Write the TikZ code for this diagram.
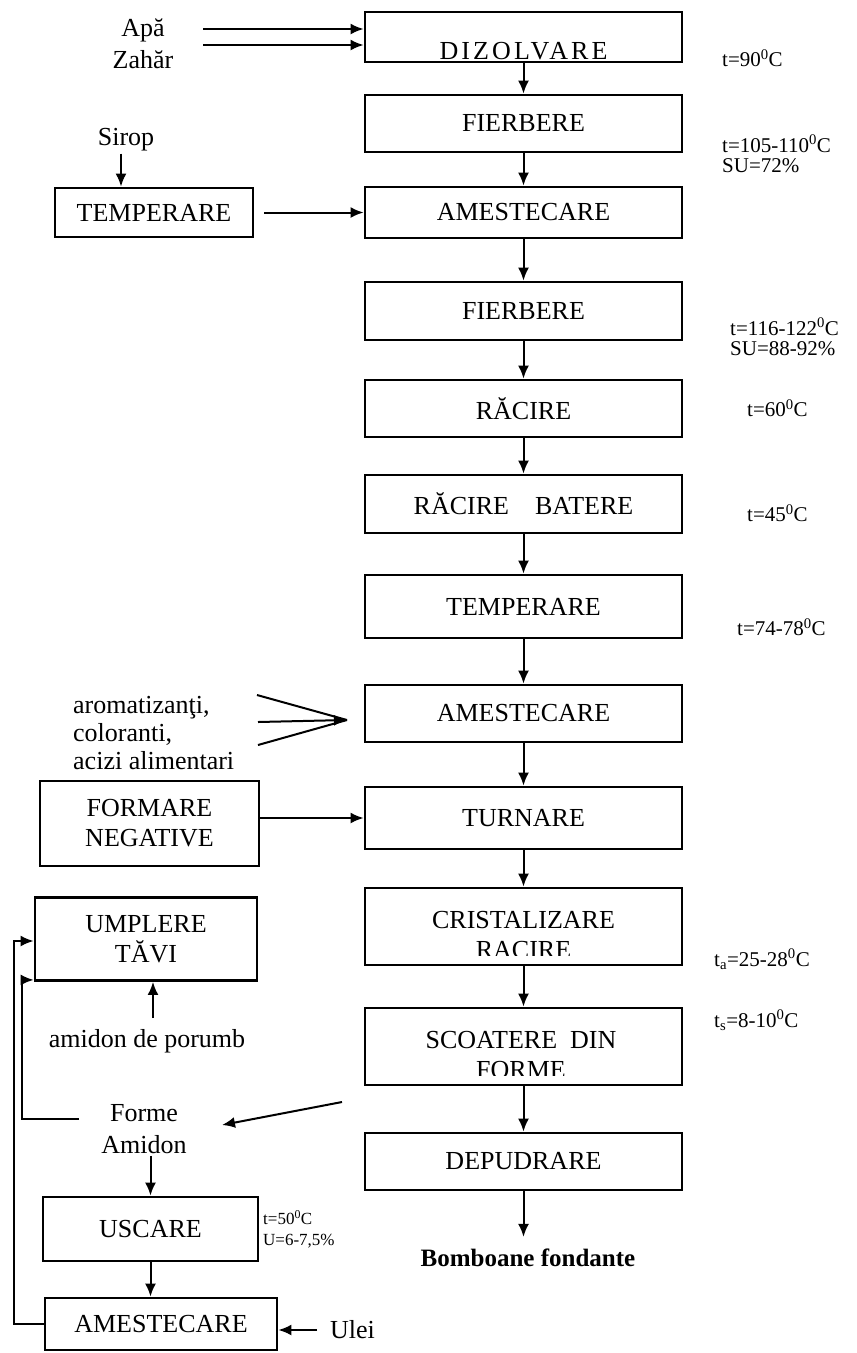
\documentclass[tikz,border=0pt]{standalone}
\usepackage{fontspec}
\setmainfont{Liberation Serif}
\newfontface\trackedface[LetterSpace=12]{Liberation Serif}
\usetikzlibrary{arrows.meta}
\newcommand\stepsz{\fontsize{26}{30}\selectfont}
\newcommand\notesz{\fontsize{21}{20}\selectfont}
\newcommand\tinysz{\fontsize{17}{21}\selectfont}
\begin{document}
\begin{tikzpicture}[x=1pt,y=-1pt,
  stepbox/.style={draw, line width=2.8pt, inner sep=2pt, align=center, font=\stepsz},
  txt/.style={inner sep=2pt, align=center, font=\stepsz},
  note/.style={anchor=west, inner sep=0pt, align=left, font=\notesz},
  arr/.style={line width=2pt, -{Latex[length=13pt,width=11pt]}},
  link/.style={line width=2pt}]
\useasboundingbox (0,0) rectangle (857,1353);

% main process column
\node[stepbox, minimum width=317pt, minimum height=50pt] (diz) at (523.5,37)
  {\raisebox{-22pt}[0pt][0pt]{\trackedface DIZOLVARE}};
\node[stepbox, minimum width=317pt, minimum height=57pt] (fie1) at (523.5,123.5) {FIERBERE};
\node[stepbox, minimum width=317pt, minimum height=51pt] (ame1) at (523.5,212.5) {AMESTECARE};
\node[stepbox, minimum width=317pt, minimum height=58pt] (fie2) at (523.5,311) {FIERBERE};
\node[stepbox, minimum width=317pt, minimum height=57pt] (rac) at (523.5,408.5) {RĂCIRE};
\node[stepbox, minimum width=317pt, minimum height=58pt] (racb) at (523.5,504) {RĂCIRE\quad BATERE};
\node[stepbox, minimum width=317pt, minimum height=63pt] (tem2) at (523.5,606.5) {TEMPERARE};
\node[stepbox, minimum width=317pt, minimum height=57pt] (ame2) at (523.5,713.5) {AMESTECARE};
\node[stepbox, minimum width=317pt, minimum height=62pt] (turn) at (523.5,818) {TURNARE};
\node[stepbox, minimum width=317pt, minimum height=77pt] (cris) at (523.5,926.5) {};
\node[stepbox, minimum width=317pt, minimum height=77pt] (scoa) at (523.5,1046.5) {};
\node[stepbox, minimum width=317pt, minimum height=57pt] (dep) at (523.5,1161.5) {DEPUDRARE};
\node[inner sep=2pt, font=\fontsize{25}{30}\selectfont\bfseries] (bomb) at (528,1258) {Bomboane fondante};

% two-line captions cut by the lower edge of their boxes
\begin{scope}
  \clip (366,890) rectangle (681,955);
  \node[txt] (crist) at (523.5,935) {CRISTALIZARE\\RACIRE};
\end{scope}
\begin{scope}
  \clip (366,1010) rectangle (681,1075);
  \node[txt] (scoat) at (521,1055) {SCOATERE\enspace DIN\\FORME};
\end{scope}

% side steps
\node[stepbox, minimum width=198pt, minimum height=49pt] (tem1) at (154,212.5) {TEMPERARE};
\node[stepbox, minimum width=219pt, minimum height=85pt] (form) at (149.5,823.5) {FORMARE\\NEGATIVE};
\node[stepbox, minimum width=222pt, minimum height=83pt] (umpl) at (146,939) {UMPLERE\\TĂVI};
\node[stepbox, minimum width=215pt, minimum height=64pt] (usc) at (150.5,1229) {USCARE};
\node[stepbox, minimum width=232pt, minimum height=52pt] (ame3) at (161,1324) {AMESTECARE};

% inputs
\node[txt] (apa) at (143,30) {Apă};
\node[txt] (zah) at (143,60) {Zahăr};
\node[txt] (sirop) at (126,140) {Sirop};
\node[txt, anchor=west, align=left, font=\fontsize{26}{28}\selectfont] (arom) at (71,733)
  {aromatizanţi,\\coloranti,\\acizi alimentari};
\node[txt] (amid) at (147,1041) {amidon de porumb};
\node[txt, font=\fontsize{26}{32}\selectfont] (forme) at (144,1129) {Forme\\Amidon};
\node[txt, anchor=west] (ulei) at (328,1330) {Ulei};

% process parameters
\node[note] (p1) at (722,58) {t=90\textsuperscript{0}C};
\node[note] (p2) at (722,154) {t=105-110\textsuperscript{0}C\\SU=72\%};
\node[note] (p3) at (730,337) {t=116-122\textsuperscript{0}C\\SU=88-92\%};
\node[note] (p4) at (747,408) {t=60\textsuperscript{0}C};
\node[note] (p5) at (747,513) {t=45\textsuperscript{0}C};
\node[note] (p6) at (737,627) {t=74-78\textsuperscript{0}C};
\node[note] (p7) at (714,959) {t\textsubscript{a}=25-28\textsuperscript{0}C};
\node[note] (p8) at (714,1020) {t\textsubscript{s}=8-10\textsuperscript{0}C};
\node[note, font=\tinysz] (p9) at (263,1229) {t=50\textsuperscript{0}C\\U=6-7,5\%};

% main flow
\draw[arr] (diz) -- (fie1);
\draw[arr] (fie1) -- (ame1);
\draw[arr] (ame1) -- (fie2);
\draw[arr] (fie2) -- (rac);
\draw[arr] (rac) -- (racb);
\draw[arr] (racb) -- (tem2);
\draw[arr] (tem2) -- (ame2);
\draw[arr] (ame2) -- (turn);
\draw[arr] (turn) -- (cris);
\draw[arr] (cris) -- (scoa);
\draw[arr] (scoa) -- (dep);
\draw[arr, shorten >=10pt] (dep.south) -- (dep.south |- bomb.north);

% feeds into the main column
\coordinate (apaS) at (203,29);
\coordinate (zahS) at (203,45);
\draw[arr] (apaS) -- (apaS -| diz.west);
\draw[arr] (zahS) -- (zahS -| diz.west);
\draw[arr] ([xshift=-5pt]sirop.south) -- ([xshift=-5pt]sirop.south |- tem1.north);
\draw[arr, shorten <=10pt] (tem1.east |- ame1.west) -- (ame1.west);
\coordinate (a1) at (257,695);
\coordinate (a2) at (258,722);
\coordinate (a3) at (258,745);
\coordinate (aTip) at (347,720);
\draw[link] (a1) -- (aTip);
\draw[link] (a3) -- (aTip);
\draw[arr] (a2) -- (aTip);
\draw[arr] (form.east |- turn.west) -- (turn.west);

% starch moulds circuit
\coordinate (amidT) at (153,1018);
\draw[arr] (amidT) -- (amidT |- umpl.south);
\coordinate (dS) at (342,1102);
\coordinate (dE) at (222,1125);
\draw[arr] (dS) -- (dE);
\coordinate (fL) at (79,1119);
\draw[arr] (fL) -| ([xshift=-12pt,yshift=2pt]umpl.south west) -- ([yshift=2pt]umpl.south west);
\draw[arr] (forme.south -| usc.north) -- (usc.north);
\draw[arr] (usc.south) -- (usc.south |- ame3.north);
\draw[arr] (ame3.west) -- ++(-30,0) |- ([yshift=-2pt]umpl.west);
\draw[arr] ([xshift=-11pt]ulei.west) -- (ame3.east |- ulei.west);
\end{tikzpicture}
\end{document}
